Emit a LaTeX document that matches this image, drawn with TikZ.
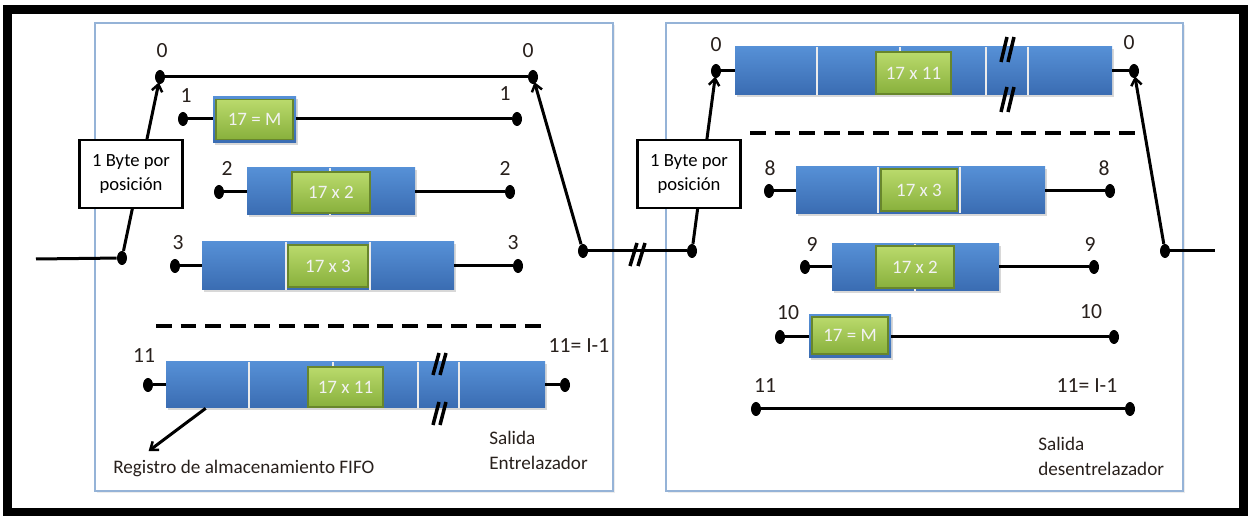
\documentclass[tikz,border=0pt]{standalone}
\usepackage{fontspec}
\setmainfont{Carlito}
\usetikzlibrary{arrows.meta,shapes.geometric,shadows}
\newdimen\pxu \pxu=0.02cm
\definecolor{fifoTop}{RGB}{86,144,214}
\definecolor{fifoBot}{RGB}{58,108,178}
\definecolor{cellTop}{RGB}{186,218,108}
\definecolor{cellBot}{RGB}{136,176,60}
\definecolor{cellEdge}{RGB}{104,134,44}
\definecolor{panelblue}{RGB}{149,179,215}
\definecolor{labelink}{RGB}{40,32,28}
\tikzset{
  wire/.style={line width=3\pxu, black},
  arr/.style={wire, -{Straight Barb[length=4pt,width=6pt,line width=1.4pt]}, shorten >=-1pt},
  pin/.style={ellipse, fill=black, inner sep=0pt, minimum width=10\pxu, minimum height=14\pxu},
  fifo/.style={rectangle, inner sep=0pt, top color=fifoTop, bottom color=fifoBot,
    drop shadow={opacity=0.3, shadow xshift=1.2pt, shadow yshift=-1.2pt}},
  cell/.style={rectangle, inner sep=0pt, top color=cellTop, bottom color=cellBot,
    draw=cellEdge, line width=1.2\pxu, text=white!95!black,
    font=\fontsize{10.8}{12}\selectfont},
  lbl/.style={inner sep=0pt, text=labelink, font=\fontsize{12.3}{14}\selectfont},
  bytebox/.style={rectangle, draw=black, line width=2.6\pxu, fill=white, align=center,
    inner sep=0pt, minimum width=103\pxu, minimum height=68\pxu,
    font=\fontsize{10.6}{14.2}\selectfont},
  divider/.style={draw=white!85!gray, line width=1.6\pxu},
  brk/.style={line width=3.5\pxu, black},
  sep/.style={line width=3.5\pxu, black, dash pattern=on 9pt off 5pt},
  panel/.style={draw=panelblue, line width=1.3\pxu, fill=white,
    drop shadow={opacity=0.15, shadow xshift=1pt, shadow yshift=-1pt}},
  note/.style={inner sep=0pt, align=left, text=labelink, font=\fontsize{10.9}{14.4}\selectfont}
}
\begin{document}
\begin{tikzpicture}[x=0.02cm, y=-0.02cm]
\useasboundingbox (0,0) rectangle (1248,516);
\fill[white] (0,0) rectangle (1248,516);
% outer frame and the two panels
\draw[line width=9\pxu] (7.5,10) rectangle (1243.5,512.5);
\draw[panel] (95,23) rectangle (613,491);
\draw[panel] (666,23) rectangle (1183,491);

% ---------------- interleaver ----------------
\coordinate (inStart) at (36,259);
\node[pin] (cin) at (122,258) {};
\node[pin] (z0l) at (160,77) {};
\node[pin] (z0r) at (533,77) {};
\node[lbl] at (162,51) {0};
\node[lbl] at (528,51) {0};
\draw[wire] (z0l) -- (z0r);

% branch 1
\node[pin] (d1l) at (183,119) {};
\node[pin] (d1r) at (517,119) {};
\node[lbl] at (186,96) {1};
\node[lbl] at (505,94) {1};
\node[fifo, minimum width=83\pxu, minimum height=46\pxu] (b1) at (254.5,120) {};
\node[cell, minimum width=77\pxu, minimum height=40\pxu] (g1) at (254.5,119.5) {17 = M};
\draw[wire] (d1l) -- (d1l -| b1.west);
\draw[wire] (d1r -| b1.east) -- (d1r);

% branch 2
\node[pin] (d2l) at (219,192) {};
\node[pin] (d2r) at (510,192) {};
\node[lbl] at (227,168) {2};
\node[lbl] at (505,168) {2};
\node[fifo, minimum width=168\pxu, minimum height=47\pxu] (b2) at (331,191.5) {};
\draw[divider] (330,168) -- (330,215);
\node[cell, minimum width=78\pxu, minimum height=41\pxu] (g2) at (331,192.5) {17 x 2};
\draw[wire] (d2l) -- (d2l -| b2.west);
\draw[wire] (d2r -| b2.east) -- (d2r);

% branch 3
\node[pin] (d3l) at (175,266) {};
\node[pin] (d3r) at (518,266) {};
\node[lbl] at (178,243) {3};
\node[lbl] at (513,243) {3};
\node[fifo, minimum width=252\pxu, minimum height=48\pxu] (b3) at (328,266) {};
\draw[divider] (286,242) -- (286,290);
\draw[divider] (370,242) -- (370,290);
\node[cell, minimum width=80\pxu, minimum height=42\pxu] (g3) at (328,266) {17 x 3};
\draw[wire] (d3l) -- (d3l -| b3.west);
\draw[wire] (d3r -| b3.east) -- (d3r);

\draw[sep] (156,326) -- (543,326);

% branch 11
\node[pin] (d11l) at (148,385) {};
\node[pin] (d11r) at (565,385) {};
\node[lbl] at (144,356) {11};
\node[lbl] at (579,346) {11= I-1};
\node[fifo, minimum width=379\pxu, minimum height=46\pxu] (b11) at (355.5,385) {};
\foreach \dx in {249,333,418,459} \draw[divider] (\dx,362) -- (\dx,408);
\node[cell, minimum width=75\pxu, minimum height=40\pxu] (g11) at (345.5,387) {17 x 11};
\draw[wire] (d11l) -- (d11l -| b11.west);
\draw[wire] (d11r -| b11.east) -- (d11r);
\draw[brk] (433,375) -- (439,353);
\draw[brk] (440,375) -- (446,353);
\draw[brk] (433,425) -- (439,402);
\draw[brk] (440,425) -- (446,402);

% FIFO caption
\node[note, anchor=west] (fifoTxt) at (113,468) {Registro de almacenamiento FIFO};
\coordinate (fifoTip) at (150,450);
\draw[arr] ([xshift=40\pxu]b11.south west) -- (fifoTip);
\node[note, anchor=west] (outA) at (489,450.5) {Salida\\Entrelazador};

% input commutator
\draw[wire] (inStart) -- (cin);
\draw[arr] (cin) -- (z0l);
\node[bytebox] (byteA) at (131,174) {1 Byte por\\posición};

% output commutator and channel
\node[pin] (cout) at (583,251) {};
\draw[arr] (cout) -- (z0r);
\node[pin] (rin) at (692,251) {};
\draw[wire] (cout) -- (rin);
\draw[brk] (630,266) -- (637,243);
\draw[brk] (638,266) -- (645,243);

% ---------------- deinterleaver ----------------
\node[pin] (r0l) at (716,71) {};
\node[pin] (r0r) at (1134,71) {};
\node[lbl] at (716,45) {0};
\node[lbl] at (1129,43) {0};
\node[fifo, minimum width=377\pxu, minimum height=48\pxu] (q0) at (923.5,71) {};
\foreach \dx in {817,900,986,1028} \draw[divider] (\dx,47) -- (\dx,95);
\node[cell, minimum width=75\pxu, minimum height=42\pxu] (h0) at (913.5,73) {17 x 11};
\draw[wire] (r0l) -- (r0l -| q0.west);
\draw[wire] (r0r -| q0.east) -- (r0r);
\draw[brk] (1001,62) -- (1007,37);
\draw[brk] (1008,62) -- (1014,37);
\draw[brk] (1001,112) -- (1007,87);
\draw[brk] (1008,112) -- (1014,87);

\draw[sep] (750,133) -- (1138,133);

% branch 8
\node[pin] (r8l) at (769,191) {};
\node[pin] (r8r) at (1110,191) {};
\node[lbl] at (770,168) {8};
\node[lbl] at (1104,168) {8};
\node[fifo, minimum width=249\pxu, minimum height=47\pxu] (q8) at (920.5,190) {};
\draw[divider] (878,167) -- (878,213);
\draw[divider] (960,167) -- (960,213);
\node[cell, minimum width=76\pxu, minimum height=42\pxu] (h8) at (919,190) {17 x 3};
\draw[wire] (r8l) -- (r8l -| q8.west);
\draw[wire] (r8r -| q8.east) -- (r8r);

% branch 9
\node[pin] (r9l) at (805,267) {};
\node[pin] (r9r) at (1094,267) {};
\node[lbl] at (812,244) {9};
\node[lbl] at (1090,244) {9};
\node[fifo, minimum width=167\pxu, minimum height=47\pxu] (q9) at (915.5,267) {};
\draw[divider] (915,244) -- (915,291);
\node[cell, minimum width=78\pxu, minimum height=42\pxu] (h9) at (915,267) {17 x 2};
\draw[wire] (r9l) -- (r9l -| q9.west);
\draw[wire] (r9r -| q9.east) -- (r9r);

% branch 10
\node[pin] (r10l) at (780,337) {};
\node[pin] (r10r) at (1114,337) {};
\node[lbl] at (788,313) {10};
\node[lbl] at (1091,312) {10};
\node[fifo, minimum width=82\pxu, minimum height=43\pxu] (q10) at (850,336) {};
\node[cell, minimum width=76\pxu, minimum height=37\pxu] (h10) at (850,335.5) {17 = M};
\draw[wire] (r10l) -- (r10l -| q10.west);
\draw[wire] (r10r -| q10.east) -- (r10r);

% branch 11
\node[pin] (r11l) at (756,409) {};
\node[pin] (r11r) at (1130,409) {};
\node[lbl] at (765,386) {11};
\node[lbl] at (1087,386) {11= I-1};
\draw[wire] (r11l) -- (r11r);

\node[note, anchor=west] (outB) at (1038,456.5) {Salida\\desentrelazador};

% deinterleaver commutators
\draw[arr] (rin) -- (r0l);
\node[bytebox] (byteB) at (689,174) {1 Byte por\\posición};
\node[pin] (rout) at (1165,251) {};
\coordinate (outEnd) at (1215,251);
\draw[arr] (rout) -- (r0r);
\draw[wire] (rout) -- (outEnd);
\end{tikzpicture}
\end{document}
